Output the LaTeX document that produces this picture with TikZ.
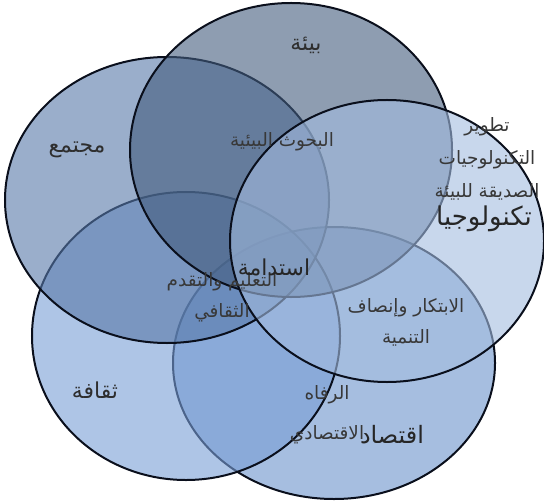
\documentclass[tikz,border=0pt]{standalone}
\usepackage{fontspec}
\usepackage{xcolor}
\usetikzlibrary{shapes.geometric}
\TeXXeTstate=1
\newfontfamily\arabicfont[Script=Arabic]{DejaVu Sans}

\definecolor{envfill}{RGB}{67,92,125}
\definecolor{socfill}{RGB}{87,120,168}
\definecolor{techfill}{RGB}{163,188,223}
\definecolor{culfill}{RGB}{120,158,213}
\definecolor{ecofill}{RGB}{107,147,203}
\definecolor{rim}{RGB}{10,15,28}

\tikzset{
  set/.style={shape=ellipse, draw=rim, line width=2bp, fill opacity=0.6, inner sep=0pt},
  lbl/.style={font=\fontsize{22}{26}\arabicfont, text=black!82, inner sep=1pt},
  biglbl/.style={font=\fontsize{26}{30}\arabicfont, text=black!85, inner sep=1pt},
  smalllbl/.style={font=\fontsize{18.5}{32}\arabicfont, text=black!78, inner sep=1pt, align=center}
}

\begin{document}
\begin{tikzpicture}[x=1bp,y=-1bp]
\useasboundingbox (0,0) rectangle (544,501);

\node[set,fill=ecofill,minimum width=322bp,minimum height=272bp] (E) at (334,363) {};
\node[set,fill=culfill,minimum width=308bp,minimum height=288bp] (C) at (186,336) {};
\node[set,fill=socfill,minimum width=324bp,minimum height=286bp] (S) at (167,200) {};
\node[set,fill=envfill,minimum width=322bp,minimum height=294bp] (B) at (291,150) {};
\node[set,fill=techfill,minimum width=314bp,minimum height=282bp] (T) at (387,241) {};

% main labels
\node[lbl] (bia) at (306,45) {\beginR بيئة\endR};
\node[lbl] (mujtama) at (77,150) {\beginR مجتمع\endR};
\node[lbl] (thaqafa) at (95,390) {\beginR ثقافة\endR};
\node[biglbl] (tech) at (484,219) {\beginR تكنولوجيا\endR};
\node[biglbl,font=\fontsize{24}{28}\arabicfont] (iqtisad) at (392,435) {\beginR اقتصاد\endR};

% overlaps
\node[smalllbl] (buhuth) at (282,142) {\beginR البحوث البيئية\endR};
\node[smalllbl,font=\fontsize{18.5}{33}\arabicfont] (tatwir) at (487,159) {\beginR تطوير\endR\\\beginR التكنولوجيات\endR\\\beginR الصديقة للبيئة\endR};
\node[smalllbl,font=\fontsize{18.5}{31}\arabicfont] (talim) at (222,297) {\beginR التعليم والتقدم\endR\\\beginR الثقافي\endR};
\node[smalllbl,font=\fontsize{18.5}{31}\arabicfont] (ibtikar) at (406,322) {\beginR الابتكار وإنصاف\endR\\\beginR التنمية\endR};
\node[smalllbl,font=\fontsize{18.5}{40}\arabicfont] (rafah) at (327,415) {\beginR الرفاه\endR\\\beginR الاقتصادي\endR};
\node[biglbl,font=\fontsize{22}{26}\arabicfont] (istidama) at (274,267) {\beginR استدامة\endR};
\end{tikzpicture}
\end{document}
